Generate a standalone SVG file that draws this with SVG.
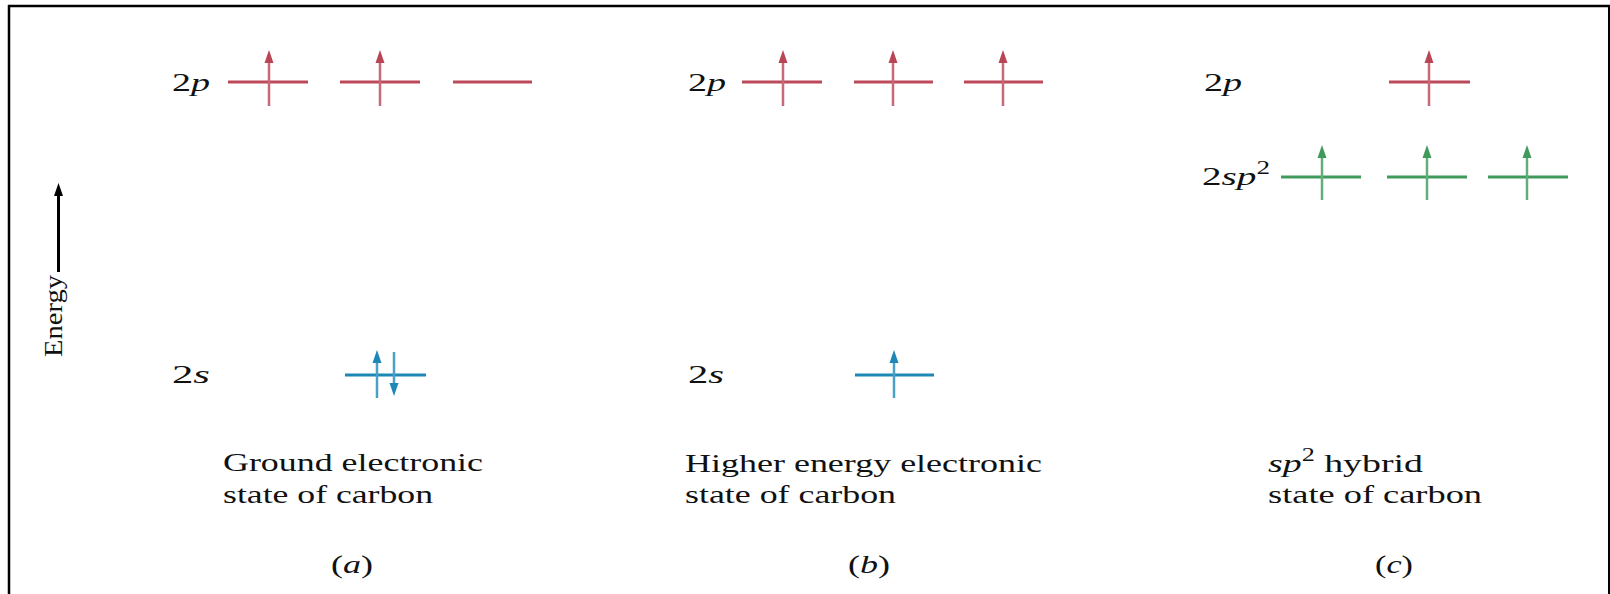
<svg xmlns="http://www.w3.org/2000/svg" width="1610" height="594" viewBox="0 0 1610 594">
<style>
  text { font-family: "Liberation Serif", "Times New Roman", serif; font-size: 26px; fill: #111; }
  .it { font-style: italic; }
  .lvR { stroke: #bc4a5a; stroke-width: 3; }
  .lvB { stroke: #1d87b6; stroke-width: 3; }
  .lvG { stroke: #3f9a5c; stroke-width: 3; }
  .stR { stroke: #c76a77; stroke-width: 2.5; }
  .stB { stroke: #4aa0c6; stroke-width: 2.5; }
  .stG { stroke: #62ad7a; stroke-width: 2.5; }
  .hR { fill: #b94555; }
  .hB { fill: #1d87b6; }
  .hG { fill: #3f9a5c; }
</style>
<defs>
  <path id="hu" d="M0,0 L-4.5,13 L4.5,13 Z"/>
  <path id="hd" d="M0,0 L-4.5,-13 L4.5,-13 Z"/>
</defs>
<rect width="1610" height="594" fill="#fff"/>
<g id="frame" stroke="#000" fill="none">
  <line x1="8" y1="6" x2="1610" y2="6" stroke-width="2.5"/>
  <line x1="9" y1="5" x2="9" y2="594" stroke-width="2.5"/>
  <line x1="1609" y1="5" x2="1609" y2="594" stroke-width="2"/>
</g>
<g id="energy-axis">
  <line x1="58.5" y1="195" x2="58.5" y2="272" stroke="#000" stroke-width="3"/>
  <use href="#hu" x="58.5" y="183" fill="#000"/>
  <text transform="translate(62,357) rotate(-90)" font-size="28" textLength="82" lengthAdjust="spacingAndGlyphs">Energy</text>
</g>
<g id="panel-a">
  <text x="172" y="91" textLength="38" lengthAdjust="spacingAndGlyphs">2<tspan class="it">p</tspan></text>
  <line class="lvR" x1="228" y1="82" x2="308" y2="82"/>
  <line class="lvR" x1="340" y1="82" x2="420" y2="82"/>
  <line class="lvR" x1="453" y1="82" x2="532" y2="82"/>
  <line class="stR" x1="269" y1="58" x2="269" y2="106"/>
  <use href="#hu" class="hR" x="269" y="50"/>
  <line class="stR" x1="380" y1="58" x2="380" y2="106"/>
  <use href="#hu" class="hR" x="380" y="50"/>
  <text x="172" y="383" textLength="38" lengthAdjust="spacingAndGlyphs">2<tspan class="it">s</tspan></text>
  <line class="lvB" x1="345" y1="375" x2="426" y2="375"/>
  <line class="stB" x1="377" y1="358" x2="377" y2="398"/>
  <use href="#hu" class="hB" x="377" y="350"/>
  <line class="stB" x1="394" y1="352" x2="394" y2="388"/>
  <use href="#hd" class="hB" x="394" y="396"/>
  <text x="223" y="471" textLength="260" lengthAdjust="spacingAndGlyphs">Ground electronic</text>
  <text x="223" y="503" textLength="210" lengthAdjust="spacingAndGlyphs">state of carbon</text>
  <text x="331" y="573" textLength="42" lengthAdjust="spacingAndGlyphs">(<tspan class="it">a</tspan>)</text>
</g>
<g id="panel-b">
  <text x="688" y="91" textLength="38" lengthAdjust="spacingAndGlyphs">2<tspan class="it">p</tspan></text>
  <line class="lvR" x1="742" y1="82" x2="822" y2="82"/>
  <line class="lvR" x1="854" y1="82" x2="933" y2="82"/>
  <line class="lvR" x1="964" y1="82" x2="1043" y2="82"/>
  <line class="stR" x1="783" y1="58" x2="783" y2="106"/>
  <use href="#hu" class="hR" x="783" y="50"/>
  <line class="stR" x1="893" y1="58" x2="893" y2="106"/>
  <use href="#hu" class="hR" x="893" y="50"/>
  <line class="stR" x1="1003" y1="58" x2="1003" y2="106"/>
  <use href="#hu" class="hR" x="1003" y="50"/>
  <text x="688" y="383" textLength="36" lengthAdjust="spacingAndGlyphs">2<tspan class="it">s</tspan></text>
  <line class="lvB" x1="855" y1="375" x2="934" y2="375"/>
  <line class="stB" x1="894" y1="358" x2="894" y2="398"/>
  <use href="#hu" class="hB" x="894" y="350"/>
  <text x="685" y="472" textLength="357" lengthAdjust="spacingAndGlyphs">Higher energy electronic</text>
  <text x="685" y="503" textLength="211" lengthAdjust="spacingAndGlyphs">state of carbon</text>
  <text x="848" y="573" textLength="42" lengthAdjust="spacingAndGlyphs">(<tspan class="it">b</tspan>)</text>
</g>
<g id="panel-c">
  <text x="1204" y="91" textLength="38" lengthAdjust="spacingAndGlyphs">2<tspan class="it">p</tspan></text>
  <line class="lvR" x1="1389" y1="82" x2="1470" y2="82"/>
  <line class="stR" x1="1429" y1="58" x2="1429" y2="106"/>
  <use href="#hu" class="hR" x="1429" y="50"/>
  <text x="1202" y="185" textLength="68" lengthAdjust="spacingAndGlyphs">2<tspan class="it">sp</tspan><tspan font-size="18" dy="-11">2</tspan></text>
  <line class="lvG" x1="1281" y1="177" x2="1361" y2="177"/>
  <line class="lvG" x1="1387" y1="177" x2="1467" y2="177"/>
  <line class="lvG" x1="1488" y1="177" x2="1568" y2="177"/>
  <line class="stG" x1="1322" y1="153" x2="1322" y2="200"/>
  <use href="#hu" class="hG" x="1322" y="145"/>
  <line class="stG" x1="1427" y1="153" x2="1427" y2="200"/>
  <use href="#hu" class="hG" x="1427" y="145"/>
  <line class="stG" x1="1527" y1="153" x2="1527" y2="200"/>
  <use href="#hu" class="hG" x="1527" y="145"/>
  <text x="1268" y="472" textLength="155" lengthAdjust="spacingAndGlyphs"><tspan class="it">sp</tspan><tspan font-size="18" dy="-11">2</tspan><tspan dy="11"> hybrid</tspan></text>
  <text x="1268" y="503" textLength="214" lengthAdjust="spacingAndGlyphs">state of carbon</text>
  <text x="1375" y="573" textLength="38" lengthAdjust="spacingAndGlyphs">(<tspan class="it">c</tspan>)</text>
</g>
</svg>
